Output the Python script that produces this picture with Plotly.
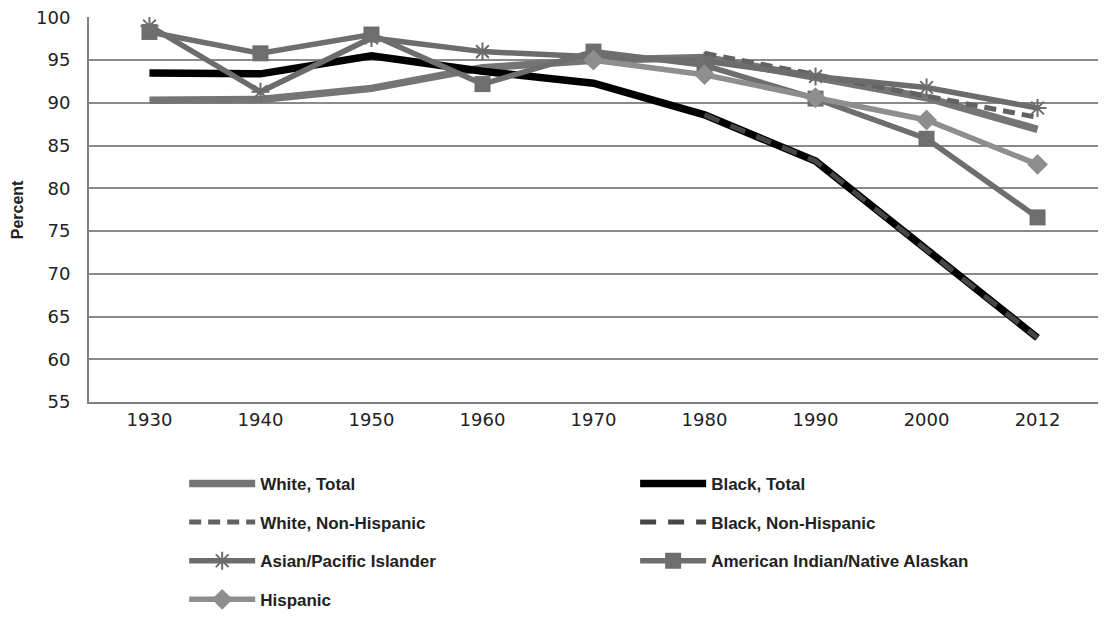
# Share of same-race marriages by group, 1930-2012.
import plotly.graph_objects as go

years = ["1930", "1940", "1950", "1960", "1970", "1980", "1990", "2000", "2012"]

white_total = [90.3, 90.4, 91.7, 94.1, 95.0, 95.3, 93.0, 90.6, 86.9]
black_total = [93.5, 93.4, 95.5, 93.7, 92.3, 88.6, 83.2, 72.8, 62.5]
white_nonhisp = [None, None, None, None, None, 95.8, 93.3, 90.9, 88.3]
black_nonhisp = [None, None, None, None, None, 88.6, 83.2, 72.8, 62.5]
asian_pi = [99.0, 91.3, 97.6, 96.0, 95.4, 94.9, 93.1, 91.8, 89.4]
am_indian = [98.3, 95.8, 98.0, 92.2, 96.0, 94.4, 90.5, 85.8, 76.6]
hispanic = [None, None, None, None, 95.0, 93.3, 90.6, 88.0, 82.8]
y_ticks = [55, 60, 65, 70, 75, 80, 85, 90, 95, 100]

FONT = "Liberation Sans"
TICK_FONT = "DejaVu Sans"

fig = go.Figure()

# (name, values, color, width, dash, marker, legend)
series = [
    ("White, Total", white_total, "#757575", 7.5, "solid", None, "legend"),
    ("Black, Total", black_total, "#000000", 7.5, "solid", None, "legend2"),
    ("White, Non-Hispanic", white_nonhisp, "#626262", 5, "12px,7px", None, "legend"),
    ("Black, Non-Hispanic", black_nonhisp, "#464646", 5, "16px,12px", None, "legend2"),
    ("Asian/Pacific Islander", asian_pi, "#6c6c6c", 5.5, "solid", "asterisk-open", "legend"),
    ("American Indian/Native Alaskan", am_indian, "#6e6e6e", 5.5, "solid", "square", "legend2"),
    ("Hispanic", hispanic, "#8e8e8e", 5.5, "solid", "diamond", "legend"),
]

for name, vals, color, width, dash, sym, leg in series:
    marker = dict(size=0.1, color=color)
    mode = "lines"
    if sym == "asterisk-open":
        marker = dict(symbol=sym, size=15, color=color, line=dict(color=color, width=2))
        mode = "lines+markers"
    elif sym:
        marker = dict(symbol=sym, size=16, color=color)
        mode = "lines+markers"
    fig.add_trace(go.Scatter(
        x=years, y=vals, name=name, mode=mode, connectgaps=False,
        line=dict(color=color, width=width, dash=dash),
        marker=marker, legend=leg, legendgroup=name,
    ))

legend_common = dict(
    orientation="v", xref="container", yref="container",
    yanchor="top", xanchor="left", bgcolor="rgba(0,0,0,0)",
    font=dict(family=FONT, size=17, color="#222222", weight="bold"),
    tracegroupgap=13.5, itemwidth=66,
)

# page body adds ~8px offset, so the figure is drawn slightly smaller
fig.update_layout(
    width=1108, height=609,
    paper_bgcolor="white", plot_bgcolor="white",
    margin=dict(l=81, r=18, t=9, b=215, autoexpand=False),
    font=dict(family=FONT, size=17, color="#222222"),
    legend=dict(x=0.159, y=0.248, **legend_common),
    legend2=dict(x=0.566, y=0.248, **legend_common),
    xaxis=dict(
        type="category", showgrid=False, showline=True, linecolor="#7f7f7f",
        linewidth=2, ticks="", tickfont=dict(family=TICK_FONT, size=18, color="#222222"),
        tickangle=0,
    ),
    yaxis=dict(
        range=[55, 100.05], tickmode="array", tickvals=y_ticks,
        showgrid=True, gridcolor="#8a8a8a", gridwidth=2,
        showline=True, linecolor="#7f7f7f", linewidth=2, ticks="", zeroline=False,
        tickfont=dict(family=TICK_FONT, size=18, color="#222222"), ticklabelstandoff=13,
        ticklabeloverflow="allow",
    ),
    annotations=[dict(
        text="<b>Percent</b>", xref="paper", yref="paper", x=-0.081, y=0.5,
        textangle=-90, showarrow=False, font=dict(family=FONT, size=16, color="#222222"),
    )],
)

fig.write_html("out.html")
